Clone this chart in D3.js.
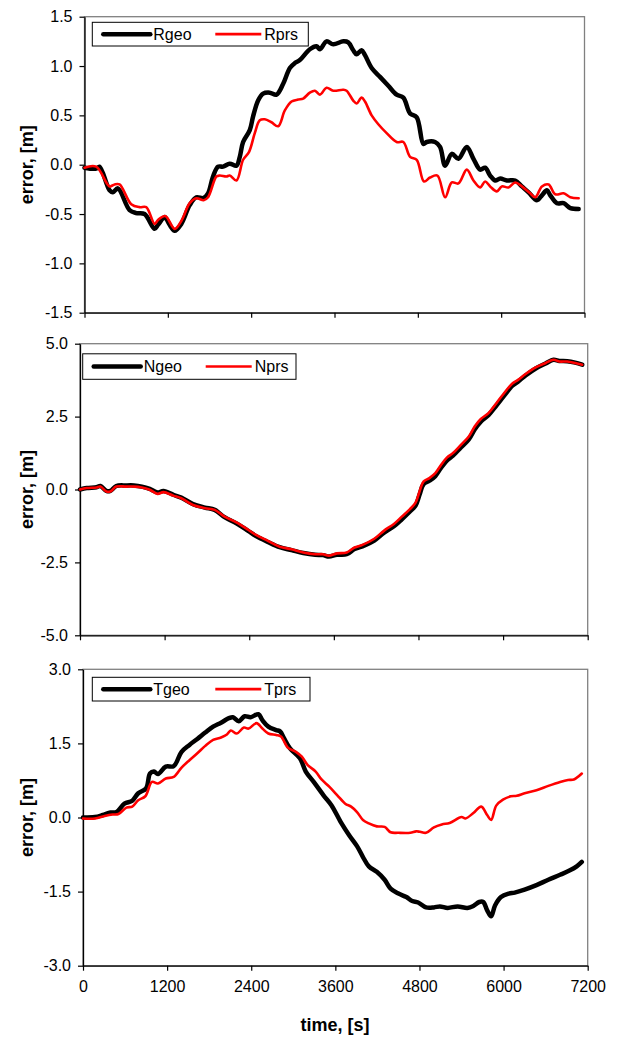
<!DOCTYPE html>
<html><head><meta charset="utf-8">
<script src="https://cdn.jsdelivr.net/npm/d3@7"></script>
<style>
body{margin:0;background:#fff}
svg text{font-family:Arial,"Liberation Sans",sans-serif;fill:#000}
</style>
</head><body>
<svg id="chart" width="618" height="1037"></svg>
<script>
// ---------- data (time in s, error in m) ----------
const timeTicks = [0, 1200, 2400, 3600, 4800, 6000, 7200];
const rTicks = [-1.5, -1.0, -0.5, 0.0, 0.5, 1.0, 1.5];
const nTicks = [-5.0, -2.5, 0.0, 2.5, 5.0];
const tTicks = [-3.0, -1.5, 0.0, 1.5, 3.0];
const seriesNames = [["Rgeo","Rprs"],["Ngeo","Nprs"],["Tgeo","Tprs"]];

const Rgeo = [[0,-0.03],[168,-0.04],[216,-0.02],[361,-0.26],[409,-0.28],[481,-0.24],[649,-0.46],[745,-0.49],[865,-0.50],[1010,-0.65],[1058,-0.61],[1154,-0.53],[1178,-0.55],[1298,-0.67],[1394,-0.60],[1515,-0.41],[1611,-0.33],[1707,-0.34],[1779,-0.29],[1851,-0.12],[1923,-0.02],[1995,-0.02],[2091,0.01],[2188,-0.01],[2236,0.08],[2284,0.23],[2380,0.35],[2428,0.49],[2500,0.65],[2572,0.72],[2668,0.73],[2765,0.71],[2861,0.82],[2957,0.98],[3029,1.03],[3101,1.06],[3245,1.17],[3342,1.20],[3390,1.17],[3486,1.25],[3582,1.22],[3726,1.25],[3798,1.24],[3870,1.16],[3918,1.12],[3990,1.16],[4039,1.11],[4135,0.98],[4255,0.89],[4375,0.80],[4495,0.71],[4591,0.68],[4688,0.52],[4784,0.48],[4880,0.21],[4928,0.23],[5048,0.23],[5120,0.18],[5193,-0.01],[5289,0.11],[5385,0.06],[5505,0.18],[5601,0.06],[5697,-0.05],[5769,-0.03],[5841,-0.11],[5913,-0.16],[5986,-0.14],[6082,-0.16],[6202,-0.16],[6298,-0.22],[6394,-0.28],[6515,-0.36],[6587,-0.31],[6659,-0.26],[6707,-0.31],[6803,-0.39],[6899,-0.39],[6996,-0.44],[7116,-0.45]];
const Rprs = [[0,-0.03],[168,-0.02],[361,-0.22],[433,-0.20],[505,-0.20],[673,-0.40],[793,-0.43],[889,-0.43],[1010,-0.60],[1058,-0.56],[1163,-0.52],[1298,-0.65],[1394,-0.57],[1515,-0.39],[1611,-0.34],[1716,-0.36],[1779,-0.33],[1899,-0.12],[1947,-0.11],[2043,-0.12],[2091,-0.11],[2188,-0.16],[2284,0.05],[2370,0.13],[2452,0.32],[2524,0.45],[2596,0.46],[2692,0.43],[2789,0.39],[2885,0.55],[2981,0.64],[3077,0.66],[3149,0.67],[3245,0.73],[3318,0.75],[3390,0.71],[3486,0.78],[3582,0.75],[3726,0.76],[3774,0.75],[3870,0.65],[3918,0.62],[3990,0.68],[4039,0.64],[4135,0.50],[4231,0.41],[4351,0.32],[4495,0.23],[4591,0.23],[4688,0.08],[4784,0.05],[4889,-0.17],[4976,-0.13],[5082,-0.11],[5193,-0.33],[5289,-0.18],[5385,-0.19],[5505,-0.05],[5601,-0.16],[5697,-0.23],[5769,-0.17],[5841,-0.22],[5938,-0.27],[6010,-0.22],[6106,-0.23],[6202,-0.18],[6298,-0.22],[6418,-0.29],[6491,-0.33],[6587,-0.22],[6683,-0.20],[6779,-0.30],[6899,-0.29],[6996,-0.33],[7116,-0.34]];

const Ngeo = [[0,0.0],[95,0.05],[235,0.08],[290,0.12],[374,-0.05],[430,-0.05],[514,0.12],[654,0.14],[765,0.14],[877,0.10],[989,0.02],[1100,-0.10],[1184,-0.05],[1324,-0.18],[1436,-0.28],[1603,-0.50],[1771,-0.62],[1910,-0.70],[2050,-0.95],[2218,-1.16],[2385,-1.42],[2497,-1.60],[2664,-1.80],[2832,-1.98],[3000,-2.08],[3167,-2.18],[3335,-2.24],[3447,-2.25],[3530,-2.30],[3642,-2.24],[3782,-2.22],[3893,-2.04],[4005,-1.95],[4173,-1.75],[4313,-1.48],[4452,-1.26],[4564,-1.02],[4676,-0.76],[4759,-0.55],[4815,-0.18],[4871,0.18],[4955,0.30],[5039,0.46],[5122,0.75],[5206,1.00],[5290,1.16],[5402,1.44],[5514,1.72],[5597,2.06],[5681,2.32],[5793,2.55],[5905,2.88],[6016,3.22],[6128,3.55],[6212,3.70],[6324,3.92],[6463,4.15],[6603,4.32],[6715,4.45],[6798,4.41],[6910,4.40],[7022,4.35],[7122,4.28]];
const Nprs = [[0,0.0],[95,0.05],[235,0.07],[290,0.10],[374,-0.07],[430,-0.07],[514,0.10],[654,0.10],[765,0.10],[877,0.07],[989,-0.01],[1100,-0.15],[1184,-0.09],[1324,-0.21],[1436,-0.30],[1603,-0.53],[1771,-0.64],[1910,-0.70],[2050,-0.93],[2218,-1.13],[2385,-1.38],[2497,-1.56],[2664,-1.76],[2832,-1.96],[3000,-2.05],[3167,-2.16],[3335,-2.22],[3447,-2.22],[3530,-2.27],[3642,-2.19],[3782,-2.16],[3893,-1.99],[4005,-1.90],[4173,-1.69],[4313,-1.41],[4452,-1.18],[4564,-0.93],[4676,-0.68],[4759,-0.45],[4815,-0.07],[4871,0.27],[4955,0.39],[5039,0.56],[5122,0.85],[5206,1.10],[5290,1.25],[5402,1.53],[5514,1.82],[5597,2.16],[5681,2.41],[5793,2.62],[5905,2.96],[6016,3.31],[6128,3.63],[6212,3.76],[6324,3.97],[6463,4.19],[6603,4.34],[6715,4.45],[6798,4.39],[6910,4.39],[7022,4.34],[7122,4.28]];

const Tgeo = [[0,0.0],[169,0.01],[281,0.05],[394,0.10],[478,0.11],[591,0.28],[703,0.34],[788,0.49],[900,0.59],[956,0.89],[1013,0.93],[1069,0.88],[1181,1.03],[1294,1.04],[1406,1.33],[1519,1.47],[1631,1.59],[1744,1.72],[1856,1.84],[1969,1.92],[2081,2.01],[2138,2.03],[2222,1.95],[2306,2.05],[2391,2.03],[2503,2.09],[2559,1.97],[2644,1.84],[2756,1.77],[2813,1.74],[2869,1.60],[2953,1.40],[3094,1.20],[3178,0.93],[3291,0.72],[3431,0.45],[3544,0.25],[3684,-0.11],[3797,-0.36],[3909,-0.58],[3994,-0.80],[4078,-0.99],[4191,-1.10],[4303,-1.26],[4388,-1.44],[4500,-1.54],[4613,-1.61],[4697,-1.69],[4781,-1.72],[4894,-1.82],[5006,-1.82],[5091,-1.80],[5203,-1.83],[5344,-1.80],[5484,-1.83],[5569,-1.79],[5653,-1.71],[5709,-1.71],[5766,-1.88],[5822,-2.00],[5878,-1.78],[5963,-1.61],[6075,-1.54],[6159,-1.52],[6300,-1.46],[6469,-1.37],[6638,-1.26],[6806,-1.16],[6947,-1.07],[7043,-0.99],[7116,-0.90]];
const Tprs = [[0,-0.02],[169,-0.02],[309,0.03],[422,0.06],[506,0.07],[619,0.20],[703,0.22],[788,0.35],[889,0.43],[984,0.72],[1069,0.69],[1181,0.79],[1294,0.82],[1406,1.01],[1519,1.16],[1631,1.30],[1744,1.45],[1856,1.57],[1969,1.62],[2053,1.68],[2109,1.76],[2194,1.70],[2295,1.82],[2363,1.80],[2475,1.91],[2559,1.80],[2644,1.70],[2756,1.67],[2824,1.64],[2925,1.41],[3038,1.33],[3122,1.23],[3206,1.06],[3319,0.93],[3403,0.77],[3516,0.62],[3628,0.45],[3741,0.28],[3825,0.22],[3909,0.11],[3994,-0.05],[4078,-0.12],[4191,-0.18],[4303,-0.19],[4388,-0.30],[4500,-0.31],[4669,-0.31],[4753,-0.28],[4809,-0.29],[4894,-0.31],[5006,-0.20],[5119,-0.14],[5231,-0.11],[5400,0.01],[5456,-0.02],[5569,0.09],[5681,0.22],[5766,0.05],[5822,-0.05],[5895,0.24],[5991,0.36],[6103,0.43],[6188,0.44],[6300,0.49],[6469,0.55],[6638,0.64],[6806,0.72],[6919,0.76],[7003,0.77],[7116,0.89]];

// ---------- layout ----------
const svg = d3.select("#chart");
const panels = [
  {geo:Rgeo, prs:Rprs, names:seriesNames[0], dom:[-1.5,1.5], ticks:rTicks, x0:84.5, x1:584.5, y0:16.7, y1:312.7, lg:{x:92.3, y:22.3, w:216, h:23.7}},
  {geo:Ngeo, prs:Nprs, names:seriesNames[1], dom:[-5,5],   ticks:nTicks, x0:80,   x1:587.7, y0:343.7, y1:635.3, lg:{x:82.7, y:353.8, w:213.3, h:25.5}},
  {geo:Tgeo, prs:Tprs, names:seriesNames[2], dom:[-3,3],   ticks:tTicks, x0:83,   x1:587.7, y0:669.3, y1:965.7, lg:{x:92.3, y:677.3, w:217.7, h:23.7}}
];
const fmt = d => d.toFixed(1);

panels.forEach((p, i) => {
  const x = d3.scaleLinear().domain([0,7200]).range([p.x0, p.x1]);
  const y = d3.scaleLinear().domain(p.dom).range([p.y1, p.y0]);
  const g = svg.append("g");

  // plot area border (grey)
  g.append("rect").attr("x", p.x0).attr("y", p.y0)
    .attr("width", p.x1 - p.x0).attr("height", p.y1 - p.y0)
    .attr("fill", "none").attr("stroke", "#808080").attr("stroke-width", 1.3);

  // y axis
  const ya = g.append("g").attr("transform", `translate(${p.x0},0)`)
    .call(d3.axisLeft(y).tickValues(p.ticks).tickFormat(fmt).tickSize(5).tickPadding(7).tickSizeOuter(0));
  ya.select(".domain").attr("stroke", "#000").attr("stroke-width", 1.3);
  ya.selectAll(".tick line").attr("stroke", "#000").attr("stroke-width", 1.2);
  ya.selectAll("text").style("font-size", "16px").attr("fill", "#000");

  // x axis
  const xa = g.append("g").attr("transform", `translate(0,${p.y1})`)
    .call(d3.axisBottom(x).tickValues(timeTicks).tickFormat(i === 2 ? d3.format("d") : () => "").tickSize(5).tickPadding(10).tickSizeOuter(0));
  xa.select(".domain").attr("stroke", "#000").attr("stroke-width", 1.3);
  xa.selectAll(".tick line").attr("stroke", "#000").attr("stroke-width", 1.2);
  xa.selectAll("text").style("font-size", "16px").attr("fill", "#000");

  // y title
  g.append("text").attr("transform", `translate(27,${(p.y0 + p.y1) / 2}) rotate(-90)`)
    .attr("text-anchor", "middle").attr("dominant-baseline", "central")
    .style("font-size", "18px").style("font-weight", "bold").text("error, [m]");

  // lines
  const line = d3.line().x(d => x(d[0])).y(d => y(d[1])).curve(d3.curveCatmullRom.alpha(0.5));
  g.append("path").datum(p.geo).attr("d", line).attr("fill", "none")
    .attr("stroke", "#000").attr("stroke-width", 4.5).attr("stroke-linejoin", "round").attr("stroke-linecap", "round");
  g.append("path").datum(p.prs).attr("d", line).attr("fill", "none")
    .attr("stroke", "#ff0000").attr("stroke-width", 2.6).attr("stroke-linejoin", "round").attr("stroke-linecap", "round");

  // legend
  const L = p.lg, cy = L.y + L.h / 2;
  g.append("rect").attr("x", L.x).attr("y", L.y).attr("width", L.w).attr("height", L.h)
    .attr("fill", "#fff").attr("stroke", "#000").attr("stroke-width", 1);
  g.append("line").attr("x1", L.x + 11).attr("x2", L.x + 58).attr("y1", cy).attr("y2", cy)
    .attr("stroke", "#000").attr("stroke-width", 4.5).attr("stroke-linecap", "round");
  g.append("text").attr("x", L.x + 61).attr("y", cy).attr("dominant-baseline", "central")
    .style("font-size", "16px").text(p.names[0]);
  g.append("line").attr("x1", L.x + 123).attr("x2", L.x + 169).attr("y1", cy).attr("y2", cy)
    .attr("stroke", "#ff0000").attr("stroke-width", 2.6);
  g.append("text").attr("x", L.x + 172).attr("y", cy).attr("dominant-baseline", "central")
    .style("font-size", "16px").text(p.names[1]);
});

// x title
svg.append("text").attr("x", 335).attr("y", 1025).attr("text-anchor", "middle")
  .attr("dominant-baseline", "central").style("font-size", "18px").style("font-weight", "bold")
  .text("time, [s]");
</script>
</body></html>
